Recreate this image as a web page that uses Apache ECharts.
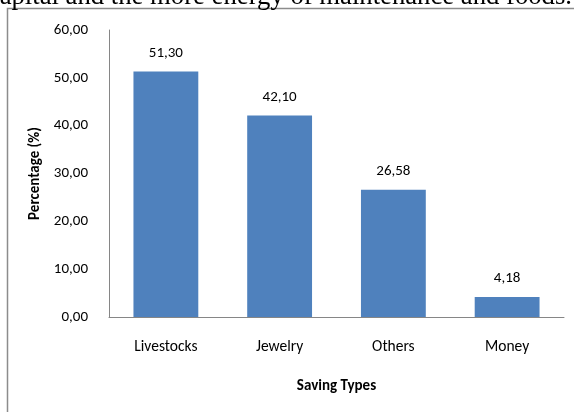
<!DOCTYPE html>
<html>
<head>
<meta charset="utf-8">
<script src="https://cdn.jsdelivr.net/npm/echarts@6/dist/echarts.min.js"></script>
<style>
  html, body { margin: 0; padding: 0; background: #fff; }
  #chart { width: 574px; height: 412px; }
</style>
</head>
<body>
<div id="chart"></div>
<script>
// Saving types and their share (%)
const categories = ['Livestocks', 'Jewelry', 'Others', 'Money'];
const percentages = [51.30, 42.10, 26.58, 4.18];
const yTicks = [0, 10, 20, 30, 40, 50, 60];

const uiFont = 'Carlito, Lato, "Open Sans", sans-serif';
const fmt = v => v.toFixed(2).replace('.', ',');

const chart = echarts.init(document.getElementById('chart'), null, { renderer: 'canvas' });

chart.setOption({
  animation: false,
  backgroundColor: '#ffffff',
  grid: { left: 109, top: 30, right: 10, bottom: 95, containLabel: false },
  xAxis: {
    type: 'category',
    data: categories,
    name: 'Saving Types',
    nameLocation: 'middle',
    nameGap: 62,
    nameTextStyle: { fontFamily: uiFont, fontWeight: 'bold', fontSize: 15, color: '#000' },
    axisLine: { lineStyle: { color: '#868686', width: 1 } },
    axisTick: { show: false },
    axisLabel: { fontFamily: uiFont, fontSize: 15.5, color: '#000', margin: 22 }
  },
  yAxis: {
    type: 'value',
    min: yTicks[0],
    max: yTicks[yTicks.length - 1],
    interval: 10,
    name: 'Percentage (%)',
    nameLocation: 'middle',
    nameGap: 63,
    nameRotate: 90,
    nameTextStyle: { fontFamily: uiFont, fontWeight: 'bold', fontSize: 15, color: '#000' },
    axisLine: { show: true, lineStyle: { color: '#868686', width: 1 } },
    axisTick: { show: false },
    splitLine: { show: false },
    axisLabel: { fontFamily: uiFont, fontSize: 15, color: '#000', margin: 21, formatter: fmt }
  },
  series: [{
    type: 'bar',
    data: percentages,
    barWidth: '57%',
    itemStyle: { color: '#4F81BD' },
    label: {
      show: true,
      position: 'top',
      distance: 11,
      fontFamily: uiFont,
      fontSize: 15,
      color: '#000',
      formatter: p => fmt(p.value)
    }
  }],
  graphic: [
    {
      type: 'polyline',
      shape: { points: [[7.5, 412], [7.5, 8.5], [574, 8.5]] },
      style: { stroke: '#8c8c8c', lineWidth: 1.5, fill: null }
    },
    {
      type: 'text',
      style: {
        x: 572,
        y: -17,
        text: 'apital and the more energy of maintenance and foods.',
        font: '26.7px "Liberation Serif", "Times New Roman", serif',
        align: 'right',
        verticalAlign: 'top',
        fill: '#000'
      }
    }
  ]
});
</script>
</body>
</html>
